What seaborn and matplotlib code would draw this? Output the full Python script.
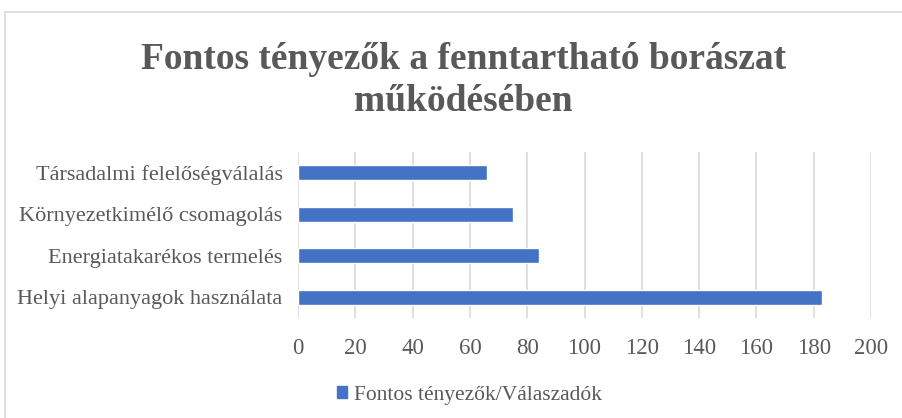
import matplotlib.pyplot as plt
import matplotlib.patches as mpatches
import seaborn as sns
import pandas as pd

categories = ['Társadalmi felelőségválalás', 'Környezetkimélő csomagolás',
              'Energiatakarékos termelés', 'Helyi alapanyagok használata']
values = [66, 75, 84, 183]
series_name = 'Fontos tényezők/Válaszadók'
x_ticks = [0, 20, 40, 60, 80, 100, 120, 140, 160, 180, 200]

df = pd.DataFrame({'Tényező': categories, 'Válaszadók': values})

sns.set_style('white')
plt.rcParams['font.family'] = ['Liberation Serif', 'DejaVu Serif']

fig = plt.figure(figsize=(9.03, 4.18), dpi=100)
ax = fig.add_axes([0.330, 0.239, 0.6346, 0.397])

sns.barplot(data=df, x='Válaszadók', y='Tényező', color='#4472c4',
            width=0.36, saturation=1, ax=ax)

ax.set_xlim(0, 200)
ax.set_xticks(x_ticks)
ax.grid(axis='x', color='#d9d9d9', linewidth=1.2)
ax.set_axisbelow(True)
for s in ax.spines.values():
    s.set_visible(False)
ax.tick_params(axis='y', length=0, labelsize=16, colors='#595959', pad=11)
ax.tick_params(axis='x', length=0, labelsize=16.5, colors='#595959', pad=14)
ax.set_xlabel('')
ax.set_ylabel('')

fig.text(0.513, 0.808, 'Fontos tényezők a fenntartható borászat\nműködésében',
         ha='center', va='center', fontsize=27, fontweight='bold',
         color='#595959', linespacing=1.25)

handle = mpatches.Patch(color='#4472c4', label=series_name)
fig.legend(handles=[handle], loc='center', bbox_to_anchor=(0.52, 0.055),
           frameon=False, fontsize=15.5, labelcolor='#595959',
           handlelength=0.45, handleheight=0.45, handletextpad=0.3)

fig.patches.append(mpatches.Rectangle((0.006, -0.01), 1.0, 0.982,
                                      transform=fig.transFigure, fill=False,
                                      edgecolor='#d9d9d9', linewidth=1.2))

fig.savefig('out.png', dpi=100)
